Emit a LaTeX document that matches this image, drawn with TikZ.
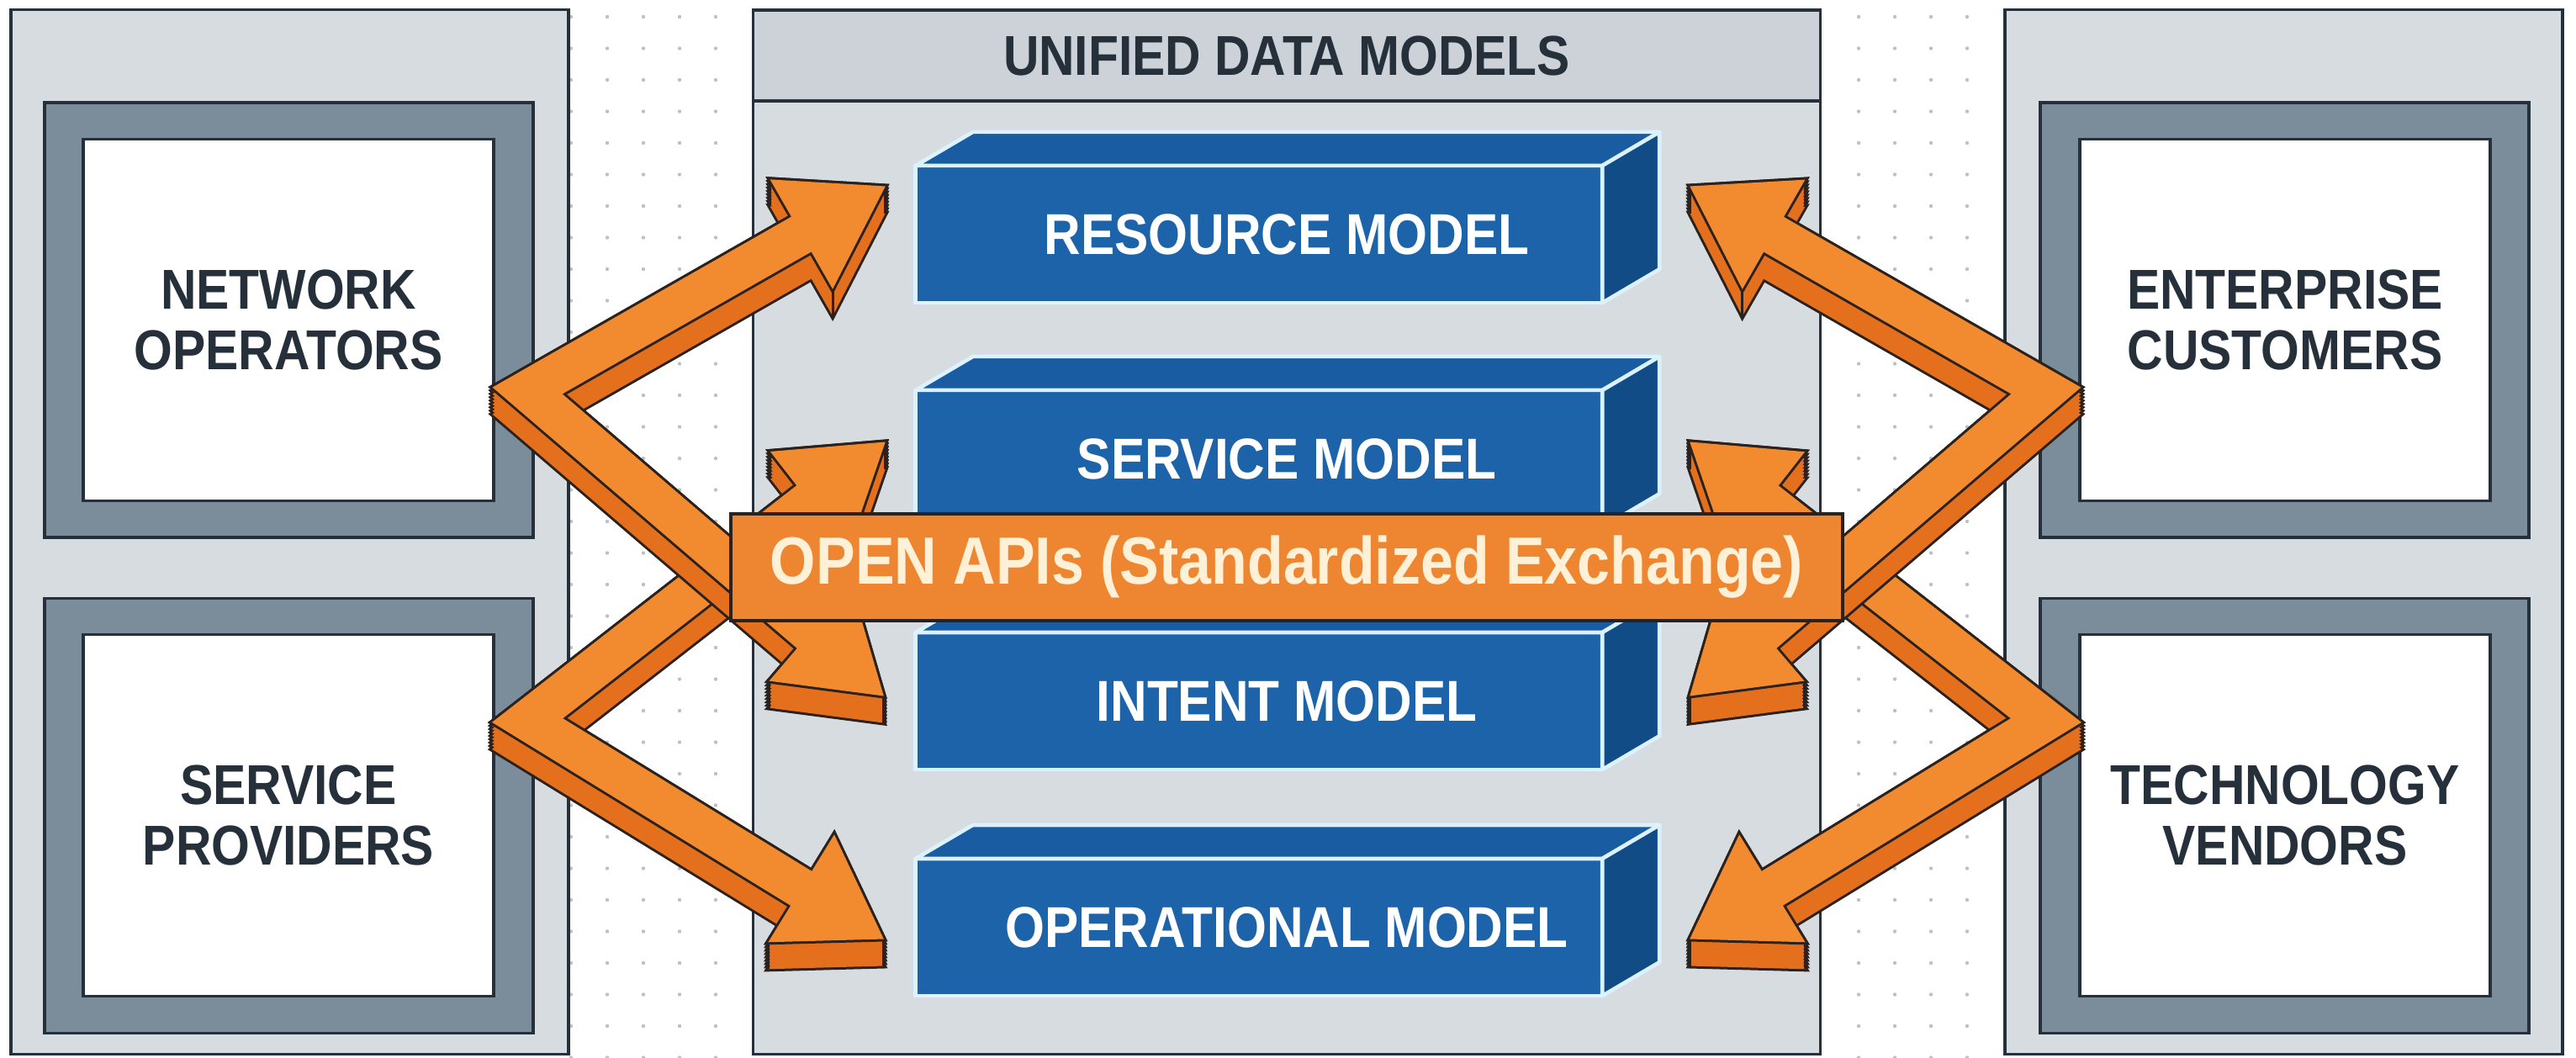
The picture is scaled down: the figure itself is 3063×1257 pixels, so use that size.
\documentclass[tikz,border=0pt]{standalone}
\usepackage{fontspec}
\setmainfont{Liberation Sans}[FakeStretch=0.88]
\usetikzlibrary{calc}

\definecolor{inkdark}{HTML}{25303B}
\definecolor{panelbg}{HTML}{D7DCE1}
\definecolor{headbg}{HTML}{CCD2D8}
\definecolor{framegray}{HTML}{7B8C9B}
\definecolor{dotgray}{HTML}{BCC1C6}
\definecolor{bluefront}{HTML}{1C63AA}
\definecolor{bluetop}{HTML}{1A5CA2}
\definecolor{blueside}{HTML}{124C87}
\definecolor{blueedge}{HTML}{DDF2FF}
\definecolor{orangetop}{HTML}{F28B30}
\definecolor{orangeside}{HTML}{E4701D}
\definecolor{orangeline}{HTML}{2B221D}
\definecolor{bannerfill}{HTML}{EE8531}
\definecolor{bannertext}{HTML}{FFF1D8}

\tikzset{
  panel/.style={draw=inkdark, line width=1pt, fill=panelbg, inner sep=0pt, outer sep=0pt},
  headband/.style={draw=inkdark, line width=1pt, fill=headbg, inner sep=0pt, outer sep=0pt,
    text=inkdark, font=\bfseries\fontsize{19}{20}\selectfont},
  frame/.style={draw=inkdark, line width=1pt, fill=framegray, inner sep=0pt, outer sep=0pt,
    minimum width=5.81cm, minimum height=5.17cm},
  actorbox/.style={draw=inkdark, line width=1pt, fill=white, inner sep=0pt, outer sep=0pt,
    minimum width=4.88cm, minimum height=4.30cm, align=center, text=inkdark,
    font=\bfseries\fontsize{19}{20.3}\selectfont},
  modelfront/.style={fill=bluefront, draw=blueedge, line width=1.3pt, line join=round,
    minimum width=8.16cm, minimum height=1.63cm, inner sep=0pt, outer sep=0pt},
  modeltop/.style={fill=bluetop, draw=blueedge, line width=1.3pt, line join=round},
  modelside/.style={fill=blueside, draw=blueedge, line width=1.3pt, line join=round},
  modellabel/.style={text=white, inner sep=0pt, font=\bfseries\fontsize{19.5}{20}\selectfont},
  banner/.style={draw=orangeline, line width=1.1pt, fill=bannerfill, inner sep=0pt, outer sep=0pt,
    minimum width=13.22cm, minimum height=1.27cm, text=bannertext,
    font=\bfseries\fontsize{22.6}{24}\selectfont},
  armink/.style={draw=orangeline, line width=0.54cm, line join=miter, line cap=butt},
  armside/.style={draw=orangeside, line width=0.48cm, line join=miter, line cap=butt},
  armtop/.style={draw=orangetop, line width=0.48cm, line join=miter, line cap=butt},
  headink/.style={fill=orangeline, draw=orangeline, line width=0.06cm, line join=miter},
  crease/.style={draw=orangeline, line width=0.03cm},
}

% One extruded two-headed chevron: #1 name, #2 joint, #3 first tip, #4 second tip
\newcommand\chevron[4]{%
  \coordinate (#1-J) at #2;
  \coordinate (#1-Ta) at #3;
  \coordinate (#1-Tb) at #4;
  \coordinate (#1-Ea) at ($(#1-Ta)!0.6cm!(#1-J)$);
  \coordinate (#1-Eb) at ($(#1-Tb)!0.6cm!(#1-J)$);
  \coordinate (#1-Ba) at ($(#1-Ta)!1.15cm!(#1-J)$);
  \coordinate (#1-Bb) at ($(#1-Tb)!1.15cm!(#1-J)$);
  \coordinate (#1-Pa) at ($(#1-Ba)!0.75cm!90:(#1-Ta)$);
  \coordinate (#1-Qa) at ($(#1-Ba)!0.75cm!-90:(#1-Ta)$);
  \coordinate (#1-Pb) at ($(#1-Bb)!0.75cm!90:(#1-Tb)$);
  \coordinate (#1-Qb) at ($(#1-Bb)!0.75cm!-90:(#1-Tb)$);
  % outline of the extruded body
  \foreach \t in {32,28,...,0}{%
    \path[armink] ([yshift=-\t*0.01cm]#1-Ea) -- ([yshift=-\t*0.01cm]#1-J) -- ([yshift=-\t*0.01cm]#1-Eb);
    \path[headink] ([yshift=-\t*0.01cm]#1-Pa) -- ([yshift=-\t*0.01cm]#1-Ta) -- ([yshift=-\t*0.01cm]#1-Qa) -- cycle
                   ([yshift=-\t*0.01cm]#1-Pb) -- ([yshift=-\t*0.01cm]#1-Tb) -- ([yshift=-\t*0.01cm]#1-Qb) -- cycle;
  }
  % side faces
  \foreach \t in {32,28,...,0}{%
    \path[armside] ([yshift=-\t*0.01cm]#1-Ea) -- ([yshift=-\t*0.01cm]#1-J) -- ([yshift=-\t*0.01cm]#1-Eb);
    \fill[orangeside] ([yshift=-\t*0.01cm]#1-Pa) -- ([yshift=-\t*0.01cm]#1-Ta) -- ([yshift=-\t*0.01cm]#1-Qa) -- cycle
                      ([yshift=-\t*0.01cm]#1-Pb) -- ([yshift=-\t*0.01cm]#1-Tb) -- ([yshift=-\t*0.01cm]#1-Qb) -- cycle;
  }
  % vertical edges at the arrowhead corners
  \foreach \c in {Pa,Qa,Ta,Pb,Qb,Tb}
    \path[crease] (#1-\c) -- ([yshift=-0.32cm]#1-\c);
  % top face
  \path[armink] (#1-Ea) -- (#1-J) -- (#1-Eb);
  \path[headink] (#1-Pa) -- (#1-Ta) -- (#1-Qa) -- cycle (#1-Pb) -- (#1-Tb) -- (#1-Qb) -- cycle;
  \path[armtop] (#1-Ea) -- (#1-J) -- (#1-Eb);
  \fill[orangetop] (#1-Pa) -- (#1-Ta) -- (#1-Qa) -- cycle (#1-Pb) -- (#1-Tb) -- (#1-Qb) -- cycle;
}

% One 3-D model block: #1 name, #2 centre y of the front face, #3 label
\newcommand\modelblock[3]{%
  \node[modelfront] (#1) at (1497,#2) {};
  \path[modeltop] (#1.north west) -- ++(68,-40) -- ($(#1.north east)+(68,-40)$) -- (#1.north east) -- cycle;
  \path[modelside] (#1.north east) -- ++(68,-40) -- ($(#1.south east)+(68,-40)$) -- (#1.south east) -- cycle;
  \node[modellabel] (#1-label) at ($(#1.center)+(33,0)$) {#3};
}

\begin{document}
\begin{tikzpicture}[x=0.01cm, y=-0.01cm]
\useasboundingbox (0,0) rectangle (3063,1257);
\fill[white] (0,0) rectangle (3063,1257);

% dotted grid in the gutters
\foreach \gx in {679,722,765,808,851,2210,2253,2296,2339}
  \foreach \gy in {0,...,33}
    \fill[dotgray] (\gx,{20+37.5*\gy}) circle[radius=0.022cm];

% three columns
\node[panel, minimum width=6.63cm, minimum height=12.41cm] (leftpanel) at (344.5,632.5) {};
\node[panel, minimum width=6.63cm, minimum height=12.41cm] (rightpanel) at (2715.5,632.5) {};
\node[panel, minimum width=12.68cm, minimum height=12.41cm] (centerpanel) at (1530,632.5) {};
\node[headband, minimum width=12.68cm, minimum height=1.08cm] (header) at (1530,66) {UNIFIED DATA MODELS};

% stakeholder boxes
\node[frame] (netops-frame) at (343.5,380.5) {};
\node[actorbox] (netops) at (343,380.5) {NETWORK\\OPERATORS};
\node[frame] (svcprov-frame) at (343.5,970) {};
\node[actorbox] (svcprov) at (343,969.5) {SERVICE\\PROVIDERS};
\node[frame] (entcust-frame) at (2716.5,380.5) {};
\node[actorbox] (entcust) at (2717,380.5) {ENTERPRISE\\CUSTOMERS};
\node[frame] (techvend-frame) at (2716.5,970) {};
\node[actorbox] (techvend) at (2717,969.5) {TECHNOLOGY\\VENDORS};

% data model blocks
\modelblock{resource}{278.5}{RESOURCE MODEL}
\modelblock{service}{545.5}{SERVICE MODEL}
\modelblock{intent}{833.5}{INTENT MODEL}
\modelblock{operational}{1102.5}{OPERATIONAL MODEL}

% exchange arrows
\chevron{spl}{($(svcprov.east)+(40,-113)$)}{($(service.west)+(-36,-20)$)}{($(operational.west)+(-38,14)$)}
\chevron{nol}{($(netops.east)+(40,84)$)}{($(resource.west)+(-36,-57)$)}{($(intent.west)+(-38,-6)$)}
\chevron{tvr}{($(techvend.west)+(-40,-113)$)}{($(service.east)+(104,-20)$)}{($(operational.east)+(104,14)$)}
\chevron{ecr}{($(entcust.west)+(-40,84)$)}{($(resource.east)+(104,-57)$)}{($(intent.east)+(104,-6)$)}

% API banner
\node[banner] (apis) at (1530,674.5) {OPEN APIs (Standardized Exchange)};
\end{tikzpicture}
\end{document}
